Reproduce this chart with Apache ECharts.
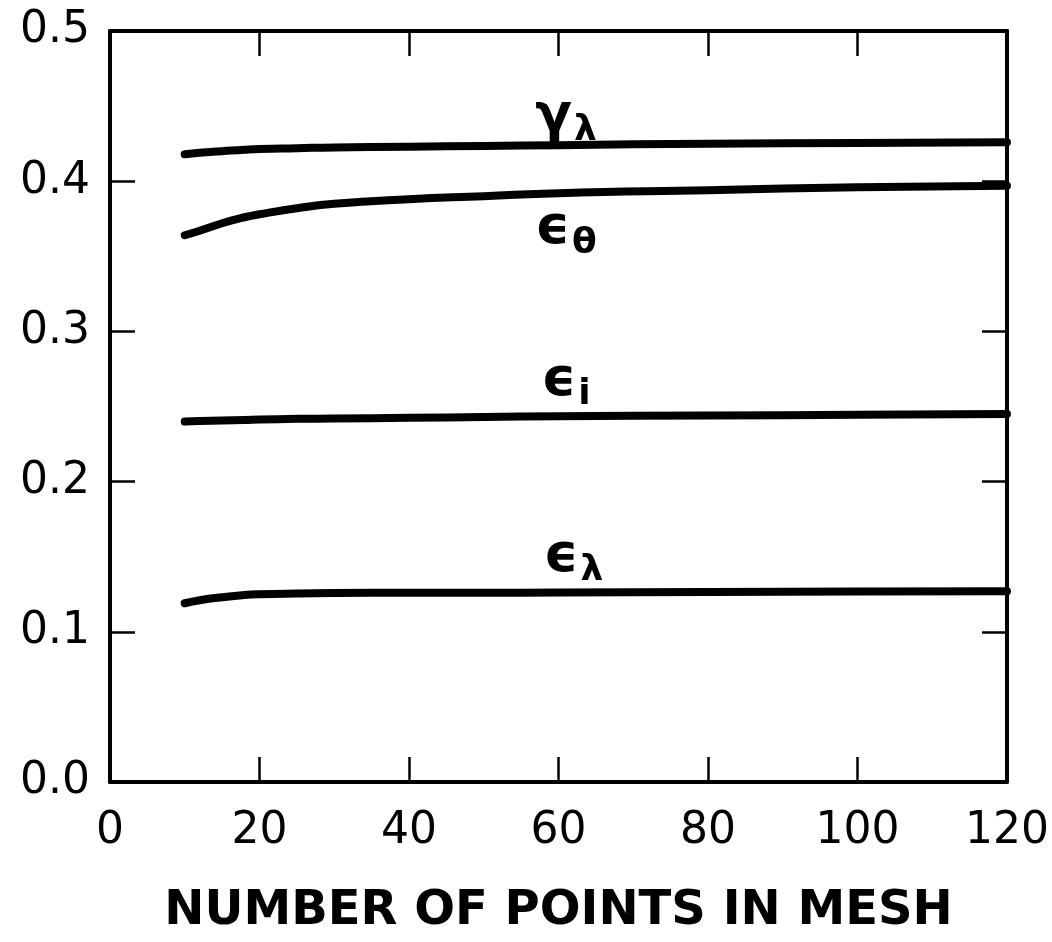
<!DOCTYPE html>
<html>
<head>
<meta charset="utf-8">
<script src="https://cdn.jsdelivr.net/npm/echarts@6/dist/echarts.min.js"></script>
<style>
  html, body { margin: 0; padding: 0; background: #fff; }
  #chart { width: 1052px; height: 942px; }
</style>
</head>
<body>
<div id="chart"></div>
<script>
// Mesh sizes sampled along each curve
const meshPoints   = [10, 12, 15, 18, 20, 25, 30, 40, 50, 60, 80, 100, 120];
// Curve values
const gammaLambda  = [0.418, 0.419, 0.420, 0.421, 0.4215, 0.422, 0.4225, 0.423, 0.4235, 0.424, 0.425, 0.4255, 0.426];
const epsTheta     = [0.364, 0.367, 0.372, 0.376, 0.378, 0.382, 0.385, 0.388, 0.390, 0.392, 0.394, 0.396, 0.397];
const epsI         = [0.240, 0.2403, 0.2407, 0.241, 0.2413, 0.2418, 0.242, 0.2425, 0.243, 0.2435, 0.244, 0.2445, 0.245];
const epsLambda    = [0.119, 0.121, 0.123, 0.1245, 0.125, 0.1255, 0.1258, 0.126, 0.126, 0.1262, 0.1265, 0.1268, 0.127];

// Curve annotations: [x, y, base symbol, subscript]
const curveLabels = [
  [61, 0.443, 'γ', 'λ'],
  [61, 0.368, 'ϵ', 'θ'],
  [61, 0.267, 'ϵ', 'i'],
  [62, 0.150, 'ϵ', 'λ']
];

const xTicks = [0, 20, 40, 60, 80, 100, 120];
const yTicks = [0.0, 0.1, 0.2, 0.3, 0.4, 0.5];

const FONT = 'DejaVu Sans';
const INK = '#000';

function pairs(ys) { return meshPoints.map((x, i) => [x, ys[i]]); }

function curve(ys) {
  return {
    type: 'line',
    data: pairs(ys),
    smooth: 0.5,
    showSymbol: false,
    lineStyle: { color: INK, width: 8, cap: 'round', join: 'round' },
    silent: true,
    z: 3
  };
}

const frameX = {
  type: 'value', min: 0, max: 120, interval: 20,
  axisLine: { show: true, onZero: false, lineStyle: { color: INK, width: 4 } },
  axisTick: { show: true, inside: true, length: 25, lineStyle: { color: INK, width: 2.5 } },
  splitLine: { show: false }
};
const frameY = {
  type: 'value', min: 0, max: 0.5, interval: 0.1,
  axisLine: { show: true, onZero: false, lineStyle: { color: INK, width: 4 } },
  axisTick: { show: true, inside: true, length: 25, lineStyle: { color: INK, width: 2.5 } },
  splitLine: { show: false }
};

const chart = echarts.init(document.getElementById('chart'), null, { renderer: 'canvas' });
chart.setOption({
  backgroundColor: '#fff',
  animation: false,
  grid: { left: 110, right: 45, top: 31, bottom: 160 },
  xAxis: [
    Object.assign({}, frameX, {
      position: 'bottom',
      name: 'NUMBER OF POINTS IN MESH',
      nameLocation: 'middle',
      nameGap: 106,
      nameTextStyle: { fontFamily: FONT, fontSize: 48, fontWeight: 'bold', color: INK },
      axisLabel: {
        show: true, margin: 28, color: INK, fontFamily: FONT, fontSize: 44,
        formatter: v => xTicks.includes(v) ? String(v) : ''
      }
    }),
    Object.assign({}, frameX, { position: 'top', axisLabel: { show: false } })
  ],
  yAxis: [
    Object.assign({}, frameY, {
      position: 'left',
      axisLabel: {
        show: true, margin: 20, color: INK, fontFamily: FONT, fontSize: 44,
        formatter: v => yTicks.some(t => Math.abs(t - v) < 1e-9) ? v.toFixed(1) : ''
      }
    }),
    Object.assign({}, frameY, { position: 'right', axisLabel: { show: false } })
  ],
  series: [
    curve(gammaLambda),
    curve(epsTheta),
    curve(epsI),
    curve(epsLambda),
    {
      type: 'scatter',
      data: curveLabels.map(l => ({ value: [l[0], l[1]], base: l[2], sub: l[3] })),
      symbolSize: 0,
      silent: true,
      itemStyle: { color: INK, opacity: 1 },
      label: {
        show: true,
        position: 'inside',
        color: INK,
        textBorderWidth: 0,
        formatter: p => '{b|' + p.data.base + '}{s|' + p.data.sub + '}',
        rich: {
          b: { fontFamily: FONT, fontSize: 54, color: INK, fontWeight: 'bold', textBorderWidth: 0 },
          s: { fontFamily: FONT, fontSize: 36, color: INK, fontWeight: 'bold', textBorderWidth: 0, padding: [28, 0, 0, 2] }
        }
      },
      z: 4
    }
  ]
});
</script>
</body>
</html>
